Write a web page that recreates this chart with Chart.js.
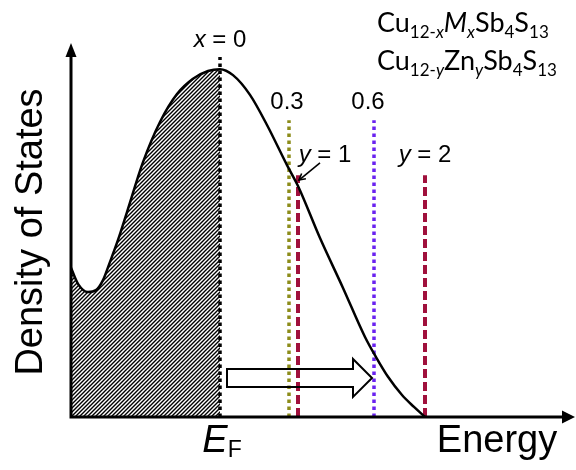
<!DOCTYPE html>
<html>
<head>
<meta charset="utf-8">
<script src="https://cdn.jsdelivr.net/npm/chart.js@4"></script>
<style>
  html, body { margin: 0; padding: 0; background: #fff; }
  #wrap { width: 576px; height: 470px; }
</style>
</head>
<body>
<div id="wrap"><canvas id="c" width="576" height="470"></canvas></div>
<script>
// ---- data (schematic units: energy relative to E_F, density of states) ----
const curveEnergy = [-2.98, -2.84, -2.64, -2.48, -2.34, -2.2, -2.04, -1.86, -1.54, -1.2, -0.86, -0.54, -0.24, 0, 0.26, 0.6, 0.94, 1.34, 1.56, 2.0, 2.46, 2.9, 3.12, 3.36, 3.64, 3.88, 4.1];
const curveDos    = [4.01, 3.58, 3.36, 3.41, 3.68, 4.17, 4.76, 5.51, 6.85, 7.93, 8.68, 9.09, 9.30, 9.35, 9.19, 8.66, 7.85, 6.77, 6.21, 4.81, 3.47, 2.15, 1.61, 1.08, 0.59, 0.27, 0];
const fermiEnergy = 0;

const markerNames  = ['x = 0', '0.3', 'y = 1', '0.6', 'y = 2'];
const markerEnergy = [0, 1.38, 1.56, 3.08, 4.1];
const markerTop    = [9.68, 7.98, 6.5, 7.98, 6.5];
const markerLabelX = [0, 1.34, 2.1, 2.96, 4.1];
const markerLabelY = [10.13, 8.47, 7.04, 8.47, 7.04];

const shiftArrowFrom = 0.14;
const shiftArrowTo = 3.04;
const shiftArrowLevel = 1.05;

const pointerFrom = [2.0, 6.83];
const pointerTo = [1.58, 6.37];

const xMin = -3, xMax = 7.1, yMin = 0, yMax = 10;

// ---- styles ----
const markerColor = ['#000000', '#8c8c1a', '#a0103c', '#6a22f0', '#a0103c'];
const markerDash  = [[3.5, 3.5], [3.5, 3.5], [9, 4], [3.5, 3.5], [9, 4]];
const markerWidth = [3.5, 3.5, 4, 3.5, 4];

function makeHatch() {
  const s = 4;
  const c = document.createElement('canvas');
  c.width = s; c.height = s;
  const g = c.getContext('2d');
  g.fillStyle = '#fff';
  g.fillRect(0, 0, s, s);
  g.strokeStyle = '#000';
  g.lineWidth = 1.4;
  g.beginPath();
  g.moveTo(-1, s + 1); g.lineTo(s + 1, -1);
  g.moveTo(-1, 1); g.lineTo(1, -1);
  g.moveTo(s - 1, s + 1); g.lineTo(s + 1, s - 1);
  g.stroke();
  return g.createPattern(c, 'repeat');
}

const curvePts = curveEnergy.map((e, i) => ({ x: e, y: curveDos[i] }));
const filledPts = curvePts.filter(p => p.x <= fermiEnergy);

const datasets = [];
datasets.push({
  data: curvePts, borderColor: '#000', borderWidth: 2.5, pointRadius: 0,
  cubicInterpolationMode: 'monotone', fill: false, order: 0
});
markerEnergy.forEach((e, i) => {
  datasets.push({
    data: [{ x: e, y: 0 }, { x: e, y: markerTop[i] }],
    borderColor: markerColor[i], borderWidth: markerWidth[i], borderDash: markerDash[i],
    borderCapStyle: 'butt', pointRadius: 0, fill: false, order: 1
  });
});
datasets.push({
  data: filledPts, borderColor: 'rgba(0,0,0,0)', borderWidth: 0, pointRadius: 0,
  cubicInterpolationMode: 'monotone', fill: 'origin', backgroundColor: makeHatch(), order: 2
});

function drawRuns(ctx, runs, x, y, align) {
  let total = 0;
  runs.forEach(r => { ctx.font = r.f; total += ctx.measureText(r.t).width; });
  let cx = align === 'center' ? x - total / 2 : (align === 'right' ? x - total : x);
  ctx.textAlign = 'left';
  runs.forEach(r => {
    ctx.font = r.f;
    ctx.fillText(r.t, cx, y + (r.dy || 0));
    cx += ctx.measureText(r.t).width;
  });
}

const overlay = {
  id: 'overlay',
  afterDraw(chart) {
    const ctx = chart.ctx;
    const xs = chart.scales.x, ys = chart.scales.y;
    const px = v => xs.getPixelForValue(v);
    const py = v => ys.getPixelForValue(v);
    const L = px(xMin), B = py(yMin);
    ctx.save();
    ctx.strokeStyle = '#000'; ctx.fillStyle = '#000';
    // axes
    ctx.lineWidth = 3;
    ctx.beginPath();
    ctx.moveTo(L + 1, B + 1.5); ctx.lineTo(L + 1, py(yMax) + 10);
    ctx.moveTo(L - 0.5, B); ctx.lineTo(px(xMax) - 10, B);
    ctx.stroke();
    ctx.beginPath();
    ctx.moveTo(L + 1, py(yMax) - 2); ctx.lineTo(L - 4.5, py(yMax) + 12); ctx.lineTo(L + 6.5, py(yMax) + 12); ctx.closePath();
    ctx.fill();
    ctx.beginPath();
    ctx.moveTo(px(xMax), B); ctx.lineTo(px(xMax) - 13, B - 6.5); ctx.lineTo(px(xMax) - 13, B + 6.5); ctx.closePath();
    ctx.fill();

    // hollow shift arrow
    const ay = py(shiftArrowLevel);
    const ax0 = px(shiftArrowFrom), ax1 = px(shiftArrowTo);
    const headBase = ax1 - 19;
    ctx.lineWidth = 2;
    ctx.lineJoin = 'miter';
    ctx.beginPath();
    ctx.moveTo(ax0, ay - 9); ctx.lineTo(headBase, ay - 9); ctx.lineTo(headBase, ay - 19);
    ctx.lineTo(ax1, ay); ctx.lineTo(headBase, ay + 19); ctx.lineTo(headBase, ay + 9);
    ctx.lineTo(ax0, ay + 9); ctx.closePath();
    ctx.stroke();

    // pointer arrow from "y = 1"
    const p0x = px(pointerFrom[0]), p0y = py(pointerFrom[1]);
    const p1x = px(pointerTo[0]), p1y = py(pointerTo[1]);
    ctx.lineWidth = 1.6;
    ctx.beginPath(); ctx.moveTo(p0x, p0y); ctx.lineTo(p1x, p1y); ctx.stroke();
    const ang = Math.atan2(p1y - p0y, p1x - p0x);
    ctx.beginPath();
    ctx.moveTo(p1x - 7 * Math.cos(ang - 0.5), p1y - 7 * Math.sin(ang - 0.5));
    ctx.lineTo(p1x, p1y);
    ctx.lineTo(p1x - 7 * Math.cos(ang + 0.5), p1y - 7 * Math.sin(ang + 0.5));
    ctx.stroke();

    // marker labels
    ctx.textBaseline = 'middle';
    const f = '24px "Liberation Sans", Arial, sans-serif';
    const fi = 'italic 24px "Liberation Sans", Arial, sans-serif';
    markerNames.forEach((name, i) => {
      const m = name.match(/^([a-z]) = (.*)$/);
      const runs = m ? [{ t: m[1], f: fi }, { t: ' = ' + m[2], f: f }] : [{ t: name, f: f }];
      drawRuns(ctx, runs, px(markerLabelX[i]), py(markerLabelY[i]), 'center');
    });

    // axis titles
    ctx.textBaseline = 'alphabetic';
    const big = '38px "Liberation Sans", Arial, sans-serif';
    ctx.font = big; ctx.textAlign = 'center';
    ctx.fillText('Energy', 497, 452);
    drawRuns(ctx, [{ t: 'E', f: 'italic 38px "Liberation Sans", Arial, sans-serif' },
                   { t: 'F', f: '23px "Liberation Sans", Arial, sans-serif', dy: 5 }], 222, 452, 'center');
    ctx.save();
    ctx.translate(42, 232); ctx.rotate(-Math.PI / 2);
    ctx.font = big; ctx.textAlign = 'center';
    ctx.fillText('Density of States', 0, 0);
    ctx.restore();

    // formulas
    const F = '27px Lato, "Open Sans", sans-serif';
    const FI = 'italic 27px Lato, "Open Sans", sans-serif';
    const S = '17px Lato, "Open Sans", sans-serif';
    const SI = 'italic 17px Lato, "Open Sans", sans-serif';
    drawRuns(ctx, [{ t: 'Cu', f: F }, { t: '12-', f: S, dy: 6 }, { t: 'x', f: SI, dy: 6 },
                   { t: 'M', f: FI }, { t: 'x', f: SI, dy: 6 }, { t: 'Sb', f: F }, { t: '4', f: S, dy: 6 },
                   { t: 'S', f: F }, { t: '13', f: S, dy: 6 }], 377, 32, 'left');
    drawRuns(ctx, [{ t: 'Cu', f: F }, { t: '12-', f: S, dy: 6 }, { t: 'y', f: SI, dy: 6 },
                   { t: 'Zn', f: F }, { t: 'y', f: SI, dy: 6 }, { t: 'Sb', f: F }, { t: '4', f: S, dy: 6 },
                   { t: 'S', f: F }, { t: '13', f: S, dy: 6 }], 377, 70, 'left');
    ctx.restore();
  }
};

new Chart(document.getElementById('c'), {
  type: 'line',
  data: { datasets },
  options: {
    responsive: false,
    animation: false,
    events: [],
    layout: { padding: { left: 70, top: 45, right: 1, bottom: 53 } },
    plugins: { legend: { display: false }, tooltip: { enabled: false } },
    scales: {
      x: { type: 'linear', min: xMin, max: xMax, display: false },
      y: { type: 'linear', min: yMin, max: yMax, display: false }
    }
  },
  plugins: [overlay]
});
</script>
</body>
</html>
